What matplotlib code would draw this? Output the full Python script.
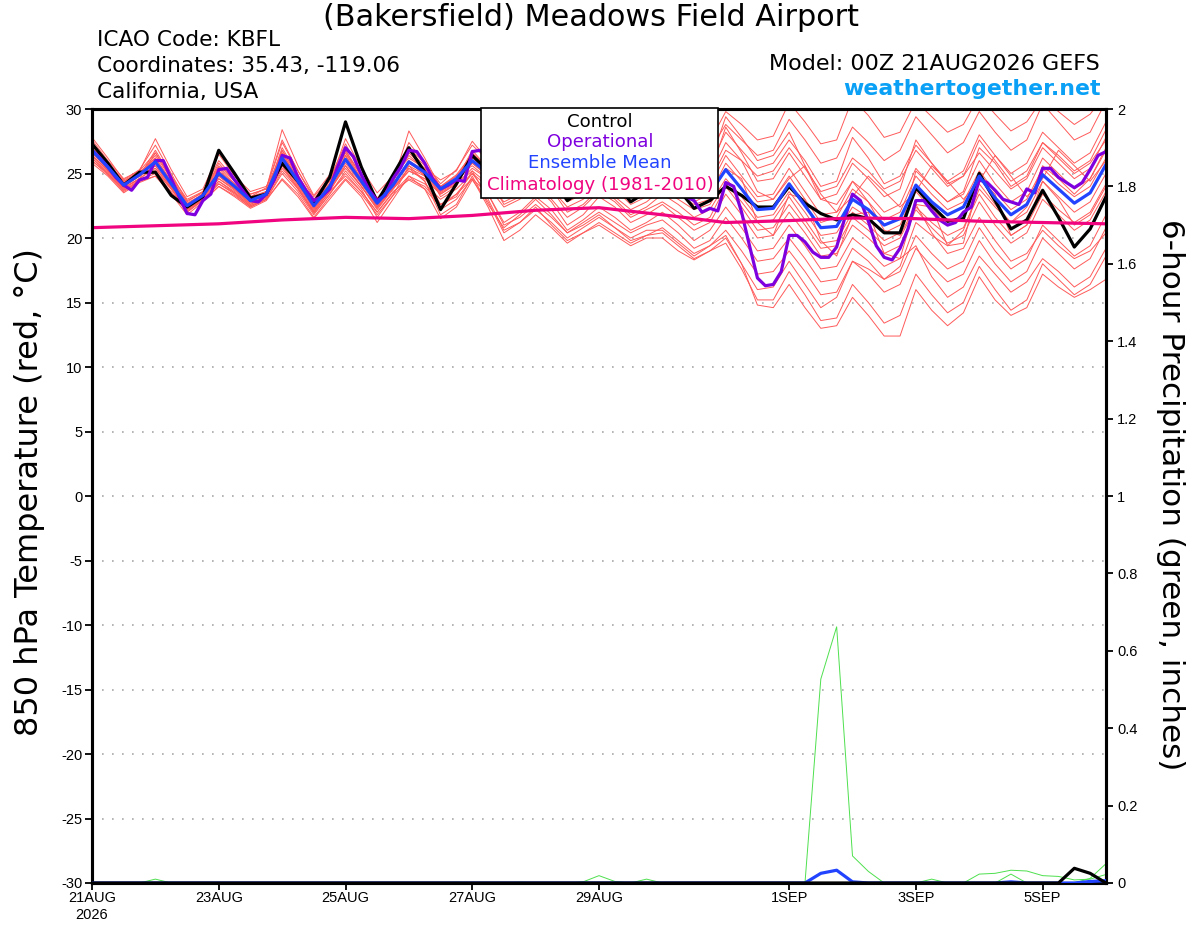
import matplotlib
matplotlib.use('Agg')
import matplotlib.pyplot as plt
from matplotlib.patches import Rectangle
import pandas as pd

plt.rcParams['font.family'] = ['Liberation Sans', 'DejaVu Sans']
BIG = ['DejaVu Sans']

# time axes (GEFS 6-hourly, operational 3-hourly, climatology daily)
times6 = pd.date_range('2026-08-21 00:00', periods=65, freq='6h')
times3 = pd.date_range('2026-08-21 00:00', periods=129, freq='3h')
clim_times = pd.date_range('2026-08-21 00:00', periods=17, freq='D')

tick_dates = pd.to_datetime(['2026-08-21', '2026-08-23', '2026-08-25', '2026-08-27',
                             '2026-08-29', '2026-09-01', '2026-09-03', '2026-09-05'])
tick_labels = ['21AUG\n2026', '23AUG', '25AUG', '27AUG', '29AUG', '1SEP', '3SEP', '5SEP']
temp_ticks = [-30, -25, -20, -15, -10, -5, 0, 5, 10, 15, 20, 25, 30]
prec_ticks = [0, 0.2, 0.4, 0.6, 0.8, 1, 1.2, 1.4, 1.6, 1.8, 2]
prec_tick_labels = ['0', '0.2', '0.4', '0.6', '0.8', '1', '1.2', '1.4', '1.6', '1.8', '2']

# 850 hPa temperature (C)
control_t = [27.3, 25.8, 24.1, 25.1, 25.1, 23.3, 22.4, 23.2, 26.8, 25.0, 23.1, 23.4,
             25.8, 24.4, 22.7, 24.7, 29.0, 25.5, 22.8, 24.9, 27.0, 25.1, 22.2, 24.2,
             26.4, 25.2, 23.6, 24.0, 26.0, 24.8, 22.9, 23.8, 25.2, 24.3, 22.8, 23.6,
             24.8, 23.8, 22.3, 22.9, 24.0, 23.3, 22.4, 22.4, 24.0, 22.7, 21.9, 21.4,
             21.8, 21.5, 20.4, 20.4, 23.9, 22.5, 21.3, 21.5, 25.0, 22.9, 20.7, 21.4,
             23.7, 21.6, 19.3, 20.7, 23.2]

mean_t = [26.8, 25.5, 24.1, 24.9, 25.9, 24.2, 22.5, 23.3, 25.0, 24.0, 22.9, 23.4,
          26.2, 24.4, 22.5, 24.0, 26.1, 24.4, 22.7, 24.1, 25.9, 25.1, 23.8, 24.6,
          26.0, 25.0, 23.6, 24.2, 25.8, 24.8, 23.4, 24.0, 25.2, 24.5, 23.3, 23.8,
          24.8, 24.0, 23.2, 23.5, 25.3, 23.8, 22.2, 22.3, 24.2, 22.5, 20.8, 20.9,
          23.0, 22.2, 21.0, 21.5, 24.1, 22.8, 21.8, 22.4, 24.8, 23.1, 21.8, 22.6,
          24.9, 23.8, 22.7, 23.5, 25.7]

operational_t = [26.8, 26.2, 25.5, 24.7, 24.1, 23.7, 24.5, 24.7, 26.0, 26.0, 24.6, 23.2,
                 21.9, 21.8, 22.9, 23.4, 25.3, 25.4, 24.5, 23.7, 22.9, 22.8, 23.4, 24.5,
                 26.4, 26.2, 24.7, 23.7, 22.9, 23.2, 23.8, 25.5, 27.0, 26.3, 24.9, 23.7,
                 22.9, 23.3, 24.6, 25.5, 26.8, 26.7, 25.8, 24.6, 23.8, 24.1, 24.5, 24.4,
                 26.7, 26.8, 26.3, 25.6, 24.9, 24.2, 24.0, 24.6, 25.8, 26.0, 25.3, 24.5,
                 23.8, 23.6, 24.0, 24.8, 25.5, 25.4, 24.7, 24.0, 23.5, 23.4, 23.8, 24.4,
                 25.0, 24.6, 23.8, 23.2, 22.9, 22.0, 22.3, 22.1, 24.3, 24.0, 22.0, 19.4,
                 16.9, 16.3, 16.4, 17.4, 20.2, 20.2, 19.7, 18.9, 18.5, 18.5, 19.3, 21.5,
                 23.4, 22.9, 21.3, 19.4, 18.5, 18.3, 19.2, 20.7, 22.9, 22.9, 22.1, 21.4,
                 21.0, 21.2, 22.0, 22.4, 24.5, 24.3, 23.7, 23.0, 22.8, 22.6, 23.8, 23.5,
                 25.4, 25.4, 24.7, 24.3, 23.9, 24.3, 25.3, 26.4, 26.7]

clim_t = [20.8, 20.95, 21.1, 21.4, 21.6, 21.5, 21.75, 22.15, 22.35, 21.8, 21.2,
          21.35, 21.55, 21.5, 21.3, 21.2, 21.1]

members_t = [
    [27.8, 26.2, 24.5, 25.3, 27.2, 25.0, 22.8, 23.6, 26.0, 24.6, 23.2, 23.9, 27.6, 25.2, 23.0, 24.6,
     27.3, 25.0, 23.1, 24.6, 27.0, 25.8, 24.2, 25.3, 27.2, 26.0, 24.4, 25.2, 27.5, 26.4, 25.0, 25.8,
     27.8, 27.0, 26.0, 26.6, 28.0, 27.4, 26.8, 27.5, 29.8, 28.8, 27.6, 27.9, 30.5, 29.0, 27.3, 27.6,
     30.8, 29.5, 27.8, 28.2, 30.6, 29.4, 28.2, 28.8, 31.0, 29.6, 28.3, 29.0, 30.8, 29.8, 28.8, 29.6, 31.2],
    [26.4, 25.2, 23.9, 24.6, 26.6, 24.6, 22.2, 23.0, 24.8, 23.8, 22.6, 23.2, 26.8, 24.8, 22.9, 24.4,
     26.6, 24.9, 23.0, 24.5, 26.4, 25.3, 24.0, 24.9, 26.5, 25.5, 24.2, 25.0, 27.2, 26.5, 25.6, 26.3,
     27.6, 26.8, 25.8, 26.4, 27.6, 26.9, 26.0, 26.8, 28.8, 27.6, 26.4, 26.8, 29.2, 27.6, 25.8, 26.2,
     28.6, 27.4, 26.0, 26.8, 29.4, 28.0, 26.6, 27.4, 29.8, 28.2, 26.8, 27.6, 30.4, 29.0, 27.6, 28.2, 30.6],
    [27.2, 25.8, 24.3, 25.1, 26.2, 24.4, 22.9, 23.5, 25.5, 24.4, 23.4, 23.8, 28.4, 25.6, 23.3, 24.9,
     26.0, 24.2, 22.6, 24.3, 28.3, 26.2, 23.9, 24.8, 25.6, 24.6, 23.8, 24.6, 26.8, 25.8, 24.6, 25.4,
     28.4, 27.2, 25.6, 26.0, 27.0, 26.2, 25.2, 25.8, 29.4, 27.8, 26.0, 26.4, 28.2, 25.6, 23.0, 22.6,
     24.4, 22.8, 20.6, 20.2, 22.6, 20.4, 18.8, 19.2, 21.6, 19.8, 18.2, 18.8, 20.6, 19.4, 18.4, 19.0, 20.4],
    [26.0, 25.0, 23.7, 24.4, 25.2, 23.8, 22.0, 23.0, 24.2, 23.5, 22.5, 23.1, 25.4, 23.9, 22.0, 23.6,
     25.6, 24.0, 22.3, 23.8, 25.2, 24.6, 23.4, 24.2, 25.4, 24.6, 23.2, 23.9, 25.6, 24.8, 23.8, 24.5,
     26.8, 26.0, 24.8, 25.4, 27.2, 26.2, 25.0, 25.6, 28.2, 26.8, 25.4, 25.8, 27.6, 26.0, 24.0, 24.4,
     27.8, 26.2, 24.2, 24.8, 27.2, 25.8, 24.4, 25.2, 28.0, 26.4, 25.0, 25.8, 28.2, 27.0, 25.8, 26.6, 29.0],
    [27.4, 25.9, 24.4, 25.2, 27.7, 25.3, 23.2, 23.8, 26.5, 24.8, 23.6, 24.0, 26.4, 24.6, 22.8, 24.2,
     27.7, 25.4, 23.5, 24.8, 26.2, 25.4, 24.5, 25.2, 27.5, 26.0, 24.6, 25.0, 28.5, 26.8, 24.5, 25.0,
     27.0, 25.6, 24.2, 24.8, 26.2, 25.2, 24.2, 24.8, 27.4, 26.0, 24.8, 25.2, 27.0, 25.4, 23.6, 24.0,
     26.2, 25.2, 23.8, 24.4, 26.8, 25.4, 24.0, 24.8, 27.6, 26.0, 24.4, 25.2, 27.4, 26.4, 25.2, 26.0, 28.4],
    [26.6, 25.4, 24.0, 24.8, 25.6, 24.0, 22.4, 23.2, 24.6, 23.8, 22.8, 23.3, 26.0, 24.2, 22.4, 23.8,
     26.4, 24.6, 22.8, 24.2, 25.6, 24.9, 23.6, 24.4, 26.2, 25.2, 23.8, 24.4, 26.4, 25.4, 24.0, 24.6,
     25.6, 24.8, 23.8, 24.4, 26.6, 25.6, 24.4, 25.0, 28.6, 26.6, 24.4, 24.6, 26.6, 24.8, 23.0, 23.4,
     25.8, 24.6, 23.2, 23.8, 27.6, 25.8, 24.2, 24.8, 26.6, 25.2, 23.8, 24.6, 27.0, 25.8, 24.6, 25.4, 27.8],
    [27.0, 25.6, 24.2, 25.0, 26.0, 24.3, 22.6, 23.4, 25.2, 24.1, 23.0, 23.5, 27.0, 24.9, 22.7, 24.2,
     26.8, 24.8, 22.9, 24.3, 27.4, 25.8, 23.6, 24.5, 26.8, 25.4, 23.8, 24.3, 26.0, 25.0, 23.8, 24.4,
     26.2, 25.2, 24.0, 24.6, 25.6, 24.8, 24.0, 24.4, 26.8, 26.0, 23.6, 23.0, 24.6, 25.6, 23.4, 22.0,
     23.2, 24.8, 23.6, 22.4, 23.6, 25.6, 24.4, 23.0, 24.4, 26.4, 24.8, 23.2, 24.6, 26.8, 25.6, 24.4, 26.0],
    [26.2, 25.1, 23.8, 24.6, 25.4, 23.9, 22.3, 23.1, 24.6, 23.7, 22.7, 23.2, 25.8, 24.1, 22.3, 23.7,
     25.8, 24.2, 22.5, 23.9, 25.4, 24.8, 23.5, 24.3, 25.8, 24.8, 23.4, 24.0, 25.4, 24.5, 23.2, 23.9,
     25.8, 24.8, 23.6, 24.2, 25.2, 24.4, 23.6, 24.0, 26.4, 24.8, 23.2, 23.4, 25.4, 23.6, 21.8, 22.0,
     24.4, 23.4, 22.0, 22.6, 25.4, 24.0, 22.8, 23.4, 26.0, 24.2, 22.8, 23.6, 26.2, 25.0, 23.8, 24.6, 26.8],
    [27.0, 25.7, 24.3, 25.0, 26.4, 24.6, 22.7, 23.4, 25.4, 24.2, 23.1, 23.6, 26.6, 24.6, 22.6, 24.0,
     26.0, 24.3, 22.6, 24.0, 26.8, 25.6, 24.0, 24.8, 26.4, 25.2, 23.5, 24.0, 25.6, 24.6, 23.0, 23.6,
     24.8, 24.0, 22.8, 23.4, 24.4, 23.8, 22.8, 23.4, 25.8, 24.4, 22.8, 23.0, 24.8, 23.0, 21.2, 21.6,
     23.8, 22.8, 21.4, 22.0, 24.8, 23.4, 22.2, 22.8, 25.2, 23.6, 22.2, 23.0, 25.4, 24.2, 23.2, 24.0, 26.2],
    [26.4, 25.3, 24.0, 24.8, 25.8, 24.2, 22.5, 23.2, 24.8, 23.9, 22.8, 23.3, 26.4, 24.4, 22.4, 24.0,
     26.2, 24.4, 22.6, 24.0, 25.8, 25.0, 23.8, 24.6, 25.8, 24.8, 23.4, 24.0, 25.2, 24.2, 22.8, 23.4,
     24.6, 23.8, 22.6, 23.2, 24.2, 23.4, 22.6, 23.0, 25.4, 24.6, 21.2, 20.2, 23.4, 23.0, 19.8, 18.6,
     21.8, 22.0, 18.8, 18.4, 22.6, 22.4, 19.4, 19.6, 24.6, 23.4, 20.2, 21.0, 24.4, 23.0, 21.0, 21.8, 24.0],
    [26.8, 25.5, 24.1, 24.9, 26.0, 24.2, 22.4, 23.3, 25.0, 23.9, 22.8, 23.4, 25.6, 24.0, 22.1, 23.8,
     25.4, 24.0, 22.4, 23.8, 25.2, 24.6, 23.4, 24.2, 25.2, 24.2, 22.8, 23.4, 24.8, 23.8, 22.4, 23.0,
     24.0, 23.2, 22.2, 22.8, 23.8, 23.0, 22.2, 22.6, 24.6, 23.2, 21.6, 21.8, 23.6, 22.0, 20.2, 20.4,
     22.4, 21.6, 20.4, 21.0, 23.6, 22.2, 21.2, 21.8, 24.2, 22.6, 21.2, 22.0, 24.4, 23.2, 22.0, 22.8, 25.0],
    [26.6, 25.4, 24.0, 24.8, 26.8, 24.8, 22.6, 23.4, 25.8, 24.4, 23.2, 23.6, 26.8, 24.8, 22.8, 24.2,
     26.6, 24.6, 22.8, 24.2, 26.0, 25.2, 23.8, 24.6, 26.6, 25.4, 23.6, 24.2, 25.0, 23.8, 22.0, 22.6,
     23.8, 23.0, 21.8, 22.4, 23.4, 22.6, 21.6, 22.2, 24.2, 22.8, 21.2, 21.4, 23.2, 21.4, 19.6, 19.8,
     22.0, 21.0, 19.8, 20.4, 25.2, 24.0, 22.8, 23.6, 27.0, 25.8, 24.0, 24.8, 27.4, 26.2, 25.0, 25.8, 27.6],
    [26.2, 25.0, 23.7, 24.5, 25.0, 23.6, 22.0, 22.9, 24.4, 23.5, 22.5, 23.0, 25.0, 23.6, 21.8, 23.4,
     25.0, 23.6, 22.0, 23.5, 24.8, 24.2, 23.0, 23.8, 25.0, 24.0, 22.4, 23.0, 24.2, 23.0, 21.6, 22.4,
     23.6, 22.8, 21.6, 22.2, 22.8, 22.0, 21.0, 21.6, 24.0, 22.4, 20.6, 20.8, 22.6, 21.0, 19.2, 19.4,
     21.6, 20.6, 19.4, 20.0, 22.4, 21.2, 20.2, 20.8, 23.4, 21.6, 20.2, 21.0, 23.4, 22.2, 21.2, 22.0, 24.2],
    [27.6, 26.0, 24.6, 25.2, 26.6, 24.8, 23.0, 23.6, 25.6, 24.6, 23.4, 23.8, 27.4, 25.2, 23.2, 24.6,
     26.8, 24.8, 23.0, 24.4, 26.6, 25.4, 23.2, 24.0, 26.4, 24.8, 22.6, 23.2, 24.0, 22.8, 21.0, 21.8,
     23.2, 22.4, 21.2, 21.8, 22.6, 21.6, 20.6, 21.2, 23.4, 21.8, 20.0, 20.2, 22.0, 20.4, 18.6, 18.8,
     21.0, 20.0, 18.8, 19.4, 22.2, 20.8, 19.6, 20.2, 22.8, 21.0, 19.6, 20.4, 23.0, 21.8, 20.6, 21.4, 23.6],
    [25.8, 24.8, 23.5, 24.3, 24.8, 23.4, 21.8, 22.8, 24.0, 23.2, 22.3, 22.9, 24.6, 23.4, 21.6, 23.2,
     24.6, 23.4, 21.8, 23.3, 24.6, 24.0, 22.6, 23.4, 24.6, 23.4, 21.2, 22.0, 23.2, 22.2, 20.6, 21.4,
     22.4, 21.6, 20.6, 21.2, 22.0, 21.0, 19.8, 20.6, 22.4, 20.8, 19.0, 19.2, 21.0, 19.4, 17.6, 17.8,
     20.0, 19.0, 17.8, 18.4, 19.4, 17.0, 15.4, 16.2, 18.6, 17.2, 15.8, 16.6, 18.4, 17.4, 16.2, 17.0, 19.2],
    [27.2, 25.8, 24.4, 25.0, 25.2, 23.8, 22.2, 23.0, 24.2, 23.4, 22.4, 23.0, 25.2, 23.8, 22.0, 23.6,
     24.8, 23.6, 22.0, 23.6, 24.5, 23.8, 22.4, 23.4, 25.0, 23.4, 21.0, 21.6, 22.6, 21.6, 20.4, 21.2,
     22.0, 21.2, 20.4, 21.0, 21.4, 20.4, 19.2, 19.8, 21.6, 20.0, 18.2, 18.4, 20.0, 18.4, 16.6, 16.8,
     19.2, 18.2, 16.8, 17.4, 20.2, 18.8, 17.6, 18.2, 20.8, 19.0, 17.6, 18.4, 21.0, 19.8, 18.6, 19.4, 21.8],
    [26.0, 24.9, 23.6, 24.4, 24.8, 23.5, 22.1, 22.9, 24.0, 23.3, 22.4, 23.0, 24.5, 23.2, 21.5, 23.0,
     24.5, 23.2, 21.2, 23.0, 24.8, 23.8, 21.5, 22.4, 24.5, 22.8, 20.4, 21.2, 22.2, 21.2, 20.0, 20.8,
     21.6, 20.8, 20.0, 20.6, 20.6, 19.6, 18.6, 19.4, 20.6, 19.0, 17.2, 17.4, 19.0, 17.4, 15.6, 15.8,
     18.2, 17.2, 15.8, 16.4, 19.2, 17.8, 16.6, 17.2, 19.8, 18.0, 16.6, 17.4, 20.0, 18.8, 17.6, 18.4, 20.8],
    [26.4, 25.2, 23.9, 24.6, 25.6, 24.0, 22.3, 23.1, 25.0, 24.0, 22.9, 23.4, 26.0, 24.2, 22.2, 23.8,
     25.6, 24.0, 22.2, 23.8, 25.4, 24.4, 22.2, 23.0, 24.6, 22.4, 19.8, 20.6, 21.8, 20.8, 19.6, 20.4,
     21.0, 20.2, 19.4, 20.0, 20.0, 19.0, 18.3, 19.0, 20.0, 18.0, 16.0, 16.2, 18.2, 16.4, 14.6, 15.4,
     18.2, 17.6, 16.8, 17.8, 21.2, 20.2, 19.4, 20.6, 23.8, 22.4, 21.2, 22.4, 25.6, 24.6, 23.4, 24.6, 27.0],
    [26.6, 25.4, 24.2, 24.9, 26.2, 24.4, 22.6, 23.3, 25.2, 24.2, 23.0, 23.5, 26.6, 24.6, 22.6, 24.0,
     26.4, 24.4, 22.4, 23.9, 26.0, 24.8, 22.6, 23.2, 25.2, 23.0, 20.6, 21.2, 22.4, 21.0, 19.8, 20.4,
     21.2, 20.4, 19.6, 20.2, 20.4, 19.4, 18.4, 19.0, 19.6, 17.6, 15.2, 15.2, 17.4, 15.6, 13.6, 13.8,
     16.4, 15.0, 13.4, 14.0, 17.2, 15.6, 14.2, 15.0, 17.8, 16.0, 14.4, 15.2, 18.0, 16.8, 15.6, 16.4, 18.6],
    [26.8, 25.6, 24.2, 25.0, 25.4, 23.9, 22.2, 23.0, 24.4, 23.6, 22.6, 23.2, 25.6, 23.8, 21.9, 23.4,
     25.2, 23.8, 21.6, 23.3, 25.6, 24.4, 21.8, 22.6, 24.8, 22.6, 20.8, 21.8, 23.0, 21.8, 20.4, 21.0,
     21.8, 20.8, 19.8, 20.2, 20.8, 19.8, 18.8, 19.4, 20.2, 18.0, 14.8, 14.6, 16.4, 14.6, 13.0, 13.2,
     15.4, 14.0, 12.4, 12.4, 16.0, 14.4, 13.2, 14.2, 17.0, 15.2, 14.0, 14.6, 17.2, 16.2, 15.4, 16.0, 16.8],
]

# 6-hour precipitation (inches)
prec_members = [
    [0, 0, 0, 0, 0, 0, 0, 0, 0, 0, 0, 0, 0,
     0, 0, 0, 0, 0, 0, 0, 0, 0, 0, 0, 0, 0,
     0, 0, 0, 0, 0, 0, 0, 0, 0, 0, 0, 0, 0,
     0, 0, 0, 0, 0, 0, 0, 0.527, 0.662, 0.07, 0.03, 0, 0,
     0, 0, 0, 0, 0, 0, 0, 0, 0, 0, 0, 0, 0],
    [0, 0, 0, 0, 0, 0, 0, 0, 0, 0, 0, 0, 0,
     0, 0, 0, 0, 0, 0, 0, 0, 0, 0, 0, 0, 0,
     0, 0, 0, 0, 0, 0, 0, 0, 0, 0, 0, 0, 0,
     0, 0, 0, 0, 0, 0, 0, 0, 0, 0, 0, 0, 0,
     0, 0, 0, 0, 0.023, 0.025, 0.033, 0.031, 0.019, 0.017, 0.008, 0.010, 0.022],
    [0, 0, 0, 0, 0, 0, 0, 0, 0, 0, 0, 0, 0,
     0, 0, 0, 0, 0, 0, 0, 0, 0, 0, 0, 0, 0,
     0, 0, 0, 0, 0, 0, 0, 0, 0, 0, 0, 0, 0,
     0, 0, 0, 0, 0, 0, 0, 0, 0, 0, 0, 0, 0,
     0, 0, 0, 0, 0, 0, 0.023, 0, 0, 0, 0, 0.012, 0.05],
    [0, 0, 0, 0, 0.01, 0, 0, 0, 0, 0, 0, 0, 0,
     0, 0, 0, 0, 0, 0, 0, 0, 0, 0, 0, 0, 0,
     0, 0, 0, 0, 0, 0.003, 0.019, 0.004, 0, 0, 0, 0, 0,
     0, 0, 0, 0, 0, 0, 0, 0, 0, 0, 0, 0, 0,
     0, 0.01, 0, 0, 0, 0, 0, 0, 0, 0, 0, 0, 0],
    [0, 0, 0, 0, 0, 0, 0, 0, 0, 0, 0, 0, 0,
     0, 0, 0, 0, 0, 0, 0, 0, 0, 0, 0.002, 0, 0,
     0, 0.002, 0, 0, 0, 0, 0, 0, 0, 0.01, 0, 0, 0,
     0, 0, 0, 0, 0, 0, 0, 0, 0, 0, 0, 0, 0,
     0, 0, 0, 0, 0, 0, 0, 0, 0, 0, 0, 0, 0],
]
prec_mean = [0, 0, 0, 0, 0, 0, 0, 0, 0, 0, 0, 0, 0,
             0, 0, 0, 0, 0, 0, 0, 0, 0, 0, 0, 0, 0,
             0, 0, 0, 0, 0, 0, 0, 0, 0, 0, 0, 0, 0,
             0, 0, 0, 0, 0, 0, 0, 0.025, 0.033, 0.003, 0, 0, 0,
             0, 0, 0, 0, 0, 0, 0.003, 0, 0, 0, 0, 0.004, 0.006]
prec_control = [0, 0, 0, 0, 0, 0, 0, 0, 0, 0, 0, 0, 0,
                0, 0, 0, 0, 0, 0, 0, 0, 0, 0, 0, 0, 0,
                0, 0, 0, 0, 0, 0, 0, 0, 0, 0, 0, 0, 0,
                0, 0, 0, 0, 0, 0, 0, 0, 0, 0, 0, 0, 0,
                0, 0, 0, 0, 0, 0, 0, 0, 0, 0, 0.038, 0.025, 0]

RED = '#ff5a5a'
GREEN = '#4ee04e'
PURPLE = '#7f00df'
BLUE = '#2244ff'
PINK = '#f0047f'

fig = plt.figure(figsize=(12, 9.27), dpi=100)
ax = fig.add_axes([92 / 1200, 1 - 883 / 927, (1106 - 92) / 1200, (883 - 109) / 927])

for m in members_t:
    ax.plot(times6, m, color=RED, lw=0.7, zorder=2)
ax.plot(times6, control_t, color='black', lw=2.3, zorder=4)
ax.plot(times3, operational_t, color=PURPLE, lw=2.3, zorder=5)
ax.plot(times6, mean_t, color=BLUE, lw=2.3, zorder=6)
ax.plot(clim_times, clim_t, color=PINK, lw=2.3, zorder=7)

ax.set_xlim(times6[0], times6[-1])
ax.set_ylim(-30, 30)
ax.set_yticks(temp_ticks)
ax.set_yticklabels([str(t) for t in temp_ticks])
ax.set_xticks(tick_dates)
ax.set_xticklabels(tick_labels)
ax.grid(axis='y', color='#a8a8a8', linestyle=(0, (1, 5)), lw=1.2)
ax.tick_params(axis='both', labelsize=10.5, length=5, width=1.3, direction='out', pad=2)
ax.tick_params(axis='x', pad=1)
for s in ax.spines.values():
    s.set_linewidth(2.2)

ax2 = ax.twinx()
for p in prec_members:
    ax2.plot(times6, p, color=GREEN, lw=0.7, zorder=2)
ax2.plot(times6, prec_mean, color=BLUE, lw=2.3, zorder=3)
ax2.plot(times6, prec_control, color='black', lw=2.3, zorder=4)
ax2.set_ylim(0, 2)
ax2.set_xlim(times6[0], times6[-1])
ax2.set_yticks(prec_ticks)
ax2.set_yticklabels(prec_tick_labels)
ax2.tick_params(axis='y', labelsize=10.5, length=5, width=1.3, direction='out', pad=3)
for s in ax2.spines.values():
    s.set_linewidth(2.2)

# legend box
ax2.add_patch(Rectangle((0.3836, 0.885), 0.2338, 0.116, transform=ax2.transAxes,
                        facecolor='white', edgecolor='black', lw=1.2, zorder=20, clip_on=False))
legend_items = [('Control', 'black', 0.983), ('Operational', PURPLE, 0.957),
                ('Ensemble Mean', BLUE, 0.930), ('Climatology (1981-2010)', PINK, 0.902)]
for txt, col, yy in legend_items:
    ax2.text(0.501, yy, txt, color=col, ha='center', va='center', fontsize=13.1, family=BIG,
             transform=ax2.transAxes, zorder=21)

# header texts
fig.text(591 / 1200, 1 - 18 / 927, '(Bakersfield) Meadows Field Airport', ha='center', va='center',
         fontsize=21.8, family=BIG)
fig.text(97 / 1200, 1 - 40 / 927, 'ICAO Code: KBFL', ha='left', va='center', fontsize=15.6, family=BIG)
fig.text(97 / 1200, 1 - 66 / 927, 'Coordinates: 35.43, -119.06', ha='left', va='center', fontsize=15.6, family=BIG)
fig.text(97 / 1200, 1 - 92 / 927, 'California, USA', ha='left', va='center', fontsize=15.6, family=BIG)
fig.text(1100 / 1200, 1 - 64 / 927, 'Model: 00Z 21AUG2026 GEFS', ha='right', va='center', fontsize=16, family=BIG)
fig.text(1101 / 1200, 1 - 89 / 927, 'weathertogether.net', ha='right', va='center', fontsize=15.8,
         fontweight='bold', color='#0aa0f5', family=BIG)

fig.text(30 / 1200, 1 - 492 / 927, '850 hPa Temperature (red, \u00b0C)', rotation=90,
         ha='center', va='center', fontsize=23, family=BIG)
fig.text(1170 / 1200, 1 - 495 / 927, '6-hour Precipitation (green, inches)', rotation=270,
         ha='center', va='center', fontsize=22.4, family=BIG)

fig.savefig('out.png', dpi=100)
